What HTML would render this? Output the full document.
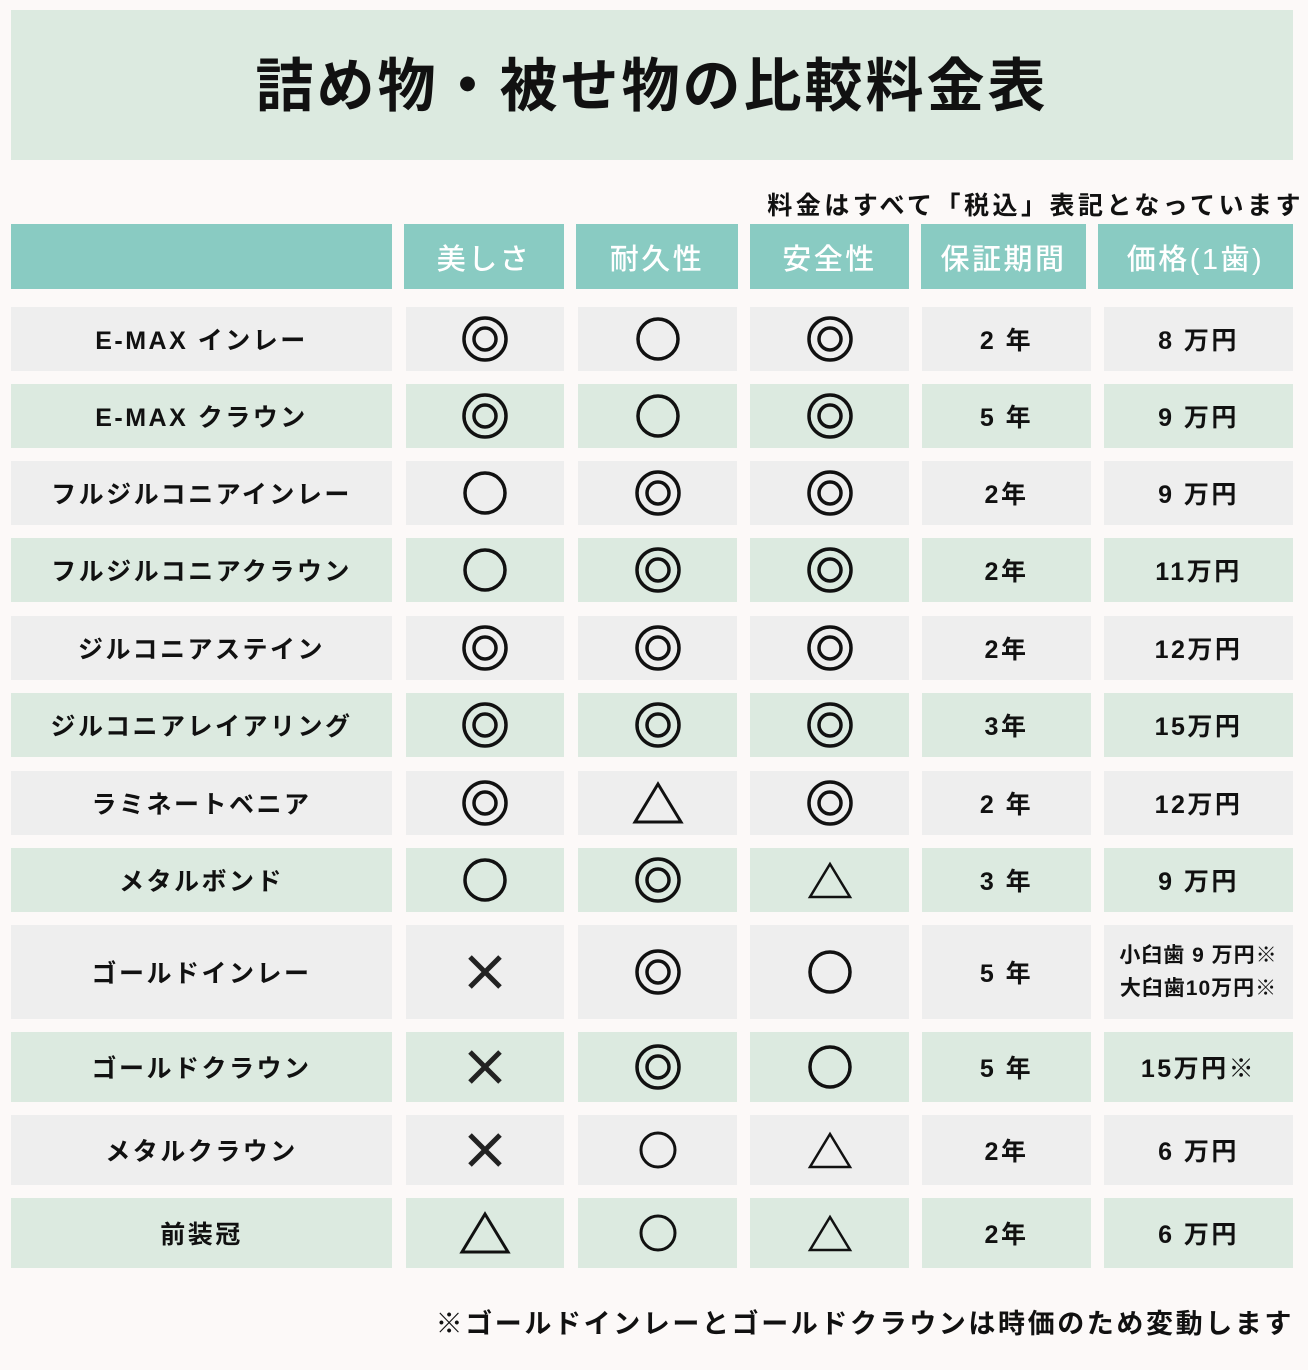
<!DOCTYPE html>
<html><head><meta charset="utf-8"><style>
body{margin:0;width:1308px;height:1370px;background:#fcf9f8;position:relative;font-family:"Liberation Sans","Noto Sans CJK JP",sans-serif;color:#111;overflow:hidden}
.c{position:absolute;display:flex;align-items:center;justify-content:center;font-weight:bold;font-size:25px;letter-spacing:2.5px;text-align:center}
.h{background:#89cbc2;color:#fff;font-size:29px;font-weight:500}
.g{background:#eeeeee}.e{background:#dceae0}
.title{position:absolute;left:11px;top:6px;width:1282px;height:150px;display:flex;align-items:center;justify-content:center;font-size:58px;font-weight:bold;letter-spacing:3px}
.note{position:absolute;font-weight:bold;white-space:nowrap}
</style></head><body>
<div style="position:absolute;left:11px;top:10px;width:1282px;height:150px;background:#dceae0"></div>
<div class="title">詰め物・被せ物の比較料金表</div>
<div class="note" style="right:4px;top:186px;font-size:25px;letter-spacing:3.5px">料金はすべて「税込」表記となっています</div>
<div class="note" style="right:14px;top:1302px;font-size:27px;letter-spacing:2.6px">※ゴールドインレーとゴールドクラウンは時価のため変動します</div>
<div id="t"></div>
<script>
const hc=[[11,392],[404,564],[576,738],[750,909],[921,1086],[1098,1293]];
const bc=[[11,392],[406,564],[578,737],[750,909],[922,1091],[1104,1293]];
const rows=[[307,371],[384,448],[461,525],[538,602],[616,680],[693,757],[771,835],[848,912],[925,1019],[1032,1102],[1115,1185],[1198,1268]];
const data=[
["E-MAX インレー","D","O","D","2 年","8 万円"],
["E-MAX クラウン","D","O","D","5 年","9 万円"],
["フルジルコニアインレー","O","D","D","2年","9 万円"],
["フルジルコニアクラウン","O","D","D","2年","11万円"],
["ジルコニアステイン","D","D","D","2年","12万円"],
["ジルコニアレイアリング","D","D","D","3年","15万円"],
["ラミネートベニア","D","T","D","2 年","12万円"],
["メタルボンド","O","D","t","3 年","9 万円"],
["ゴールドインレー","X","D","O","5 年","<span style='font-size:21px;line-height:33px;letter-spacing:1px'>小臼歯 9 万円※<br>大臼歯10万円※</span>"],
["ゴールドクラウン","X","D","O","5 年","15万円※"],
["メタルクラウン","X","o","t","2年","6 万円"],
["前装冠","T","o","t","2年","6 万円"]];
function sym(s){
 if(s=="D")return '<svg width="50" height="50"><circle cx="25" cy="25" r="21" fill="none" stroke="#111" stroke-width="3.5"/><circle cx="25" cy="25" r="11" fill="none" stroke="#111" stroke-width="3.5"/></svg>';
 if(s=="O")return '<svg width="50" height="50"><circle cx="25" cy="25" r="20" fill="none" stroke="#111" stroke-width="3.5"/></svg>';
 if(s=="o")return '<svg width="44" height="44"><circle cx="22" cy="22" r="17" fill="none" stroke="#111" stroke-width="3"/></svg>';
 if(s=="T")return '<svg width="52" height="46"><polygon points="26,4 49,42 3,42" fill="none" stroke="#111" stroke-width="3"/></svg>';
 if(s=="t")return '<svg width="46" height="40"><polygon points="23,4 43,37 3,37" fill="none" stroke="#111" stroke-width="2.5"/></svg>';
 return '<svg width="40" height="40"><path d="M5 5L35 35M35 5L5 35" stroke="#222" stroke-width="5"/></svg>';
}
let h='';
const hd=["","美しさ","耐久性","安全性","保証期間","価格(1歯)"];
hc.forEach((c,i)=>{h+=`<div class="c h" style="left:${c[0]}px;top:224px;width:${c[1]-c[0]}px;height:65px">${hd[i]}</div>`});
rows.forEach((r,ri)=>{const cls=ri%2?'e':'g';bc.forEach((c,ci)=>{let v=data[ri][ci];if(ci>=1&&ci<=3)v=sym(v);
h+=`<div class="c ${cls}" style="left:${c[0]}px;top:${r[0]}px;width:${c[1]-c[0]}px;height:${r[1]-r[0]}px">${v}</div>`;})});
document.getElementById('t').innerHTML=h;
</script>
</body></html>
